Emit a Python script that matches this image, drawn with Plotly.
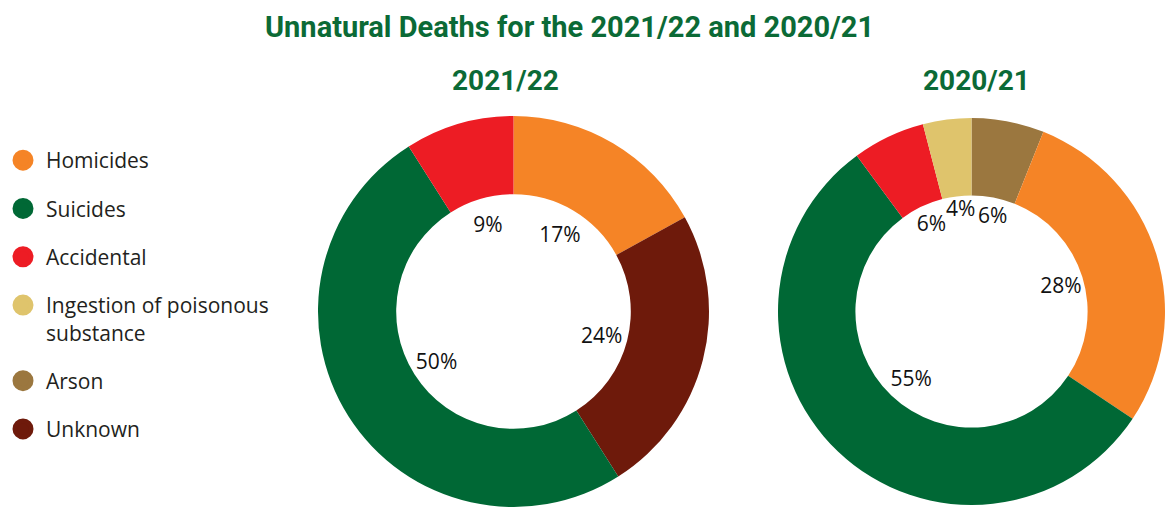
import plotly.graph_objects as go

# ---- data ----
legend_categories = ["Homicides", "Suicides", "Accidental",
                     "Ingestion of poisonous substance", "Arson", "Unknown"]
labels_2122 = ["Homicides", "Unknown", "Suicides", "Accidental"]
values_2122 = [17, 24, 50, 9]
labels_2021 = ["Arson", "Homicides", "Suicides", "Accidental",
               "Ingestion of poisonous substance"]
values_2021 = [6, 28, 55, 6, 4]
title_text = "Unnatural Deaths for the 2021/22 and 2020/21"
subtitles = ["2021/22", "2020/21"]

# ---- style ----
colors = {
    "Homicides": "#F58426",
    "Suicides": "#006835",
    "Accidental": "#ED1C24",
    "Ingestion of poisonous substance": "#DFC46C",
    "Arson": "#9B773F",
    "Unknown": "#6E1A0B",
}
legend_names = {"Ingestion of poisonous substance": "Ingestion of poisonous<br>substance"}
W, H = 1165, 507
GREEN = "#0B6A36"
HOLE = 0.6
FONT = "Open Sans"


def domain(cx, cy, r):
    x0 = max(0, (cx - r) / W)
    x1 = min(1, (cx + r) / W)
    y0 = max(0, (H - cy - r) / H)
    y1 = min(1, (H - cy + r) / H)
    return dict(x=[x0, x1], y=[y0, y1])


pies = [
    (labels_2122, values_2122, 513.5, 312, 196),
    (labels_2021, values_2021, 974, 312, 196),
]

fig = go.Figure()
for labels, values, cx, cy, r in pies:
    fig.add_trace(go.Pie(
        labels=labels, values=values, sort=False, direction="clockwise",
        rotation=0, hole=HOLE, domain=domain(cx, cy, r),
        marker=dict(colors=[colors[l] for l in labels], line=dict(width=0)),
        textinfo="none", showlegend=False, hoverinfo="label+value",
    ))
    ri = r * HOLE
    fig.add_trace(go.Pie(
        labels=labels, values=values, sort=False, direction="clockwise",
        rotation=0, hole=0.55, domain=domain(cx, cy, ri),
        marker=dict(colors=["rgba(0,0,0,0)"] * len(labels), line=dict(width=0)),
        texttemplate="%{value}%", textposition="inside",
        insidetextorientation="horizontal",
        insidetextfont=dict(family=FONT, size=21, color="#111111"),
        showlegend=False, hoverinfo="skip",
    ))

for cat in legend_categories:
    c = colors[cat]
    fig.add_trace(go.Scatter(
        x=[None], y=[None], mode="markers", name=legend_names.get(cat, cat),
        legendgroup=cat,
        marker=dict(size=16, color=c, symbol="circle", line=dict(width=5, color=c)),
    ))

fig.add_annotation(text="<b>" + title_text + "</b>", x=569.5 / W, y=(H - 27) / H,
                   xref="paper", yref="paper", showarrow=False,
                   xanchor="center", yanchor="middle",
                   font=dict(family="Roboto", size=29, color=GREEN))
for sub, cx in zip(subtitles, [505, 976]):
    fig.add_annotation(text="<b>" + sub + "</b>", x=cx / W, y=(H - 80) / H,
                       xref="paper", yref="paper", showarrow=False,
                       xanchor="center", yanchor="middle",
                       font=dict(family="Roboto", size=28, color=GREEN))

fig.update_layout(
    width=W, height=H, margin=dict(l=0, r=0, t=0, b=0),
    paper_bgcolor="white", plot_bgcolor="white",
    xaxis=dict(visible=False), yaxis=dict(visible=False),
    uniformtext=dict(minsize=21, mode="show"),
    legend=dict(x=0, y=(H - 140) / H, xanchor="left", yanchor="top",
                font=dict(family=FONT, size=21, color="#231F20"),
                tracegroupgap=18, valign="top", itemclick=False,
                itemwidth=36,
                itemdoubleclick=False, bgcolor="rgba(0,0,0,0)"),
    showlegend=True,
)

fig.write_html("out.html")
